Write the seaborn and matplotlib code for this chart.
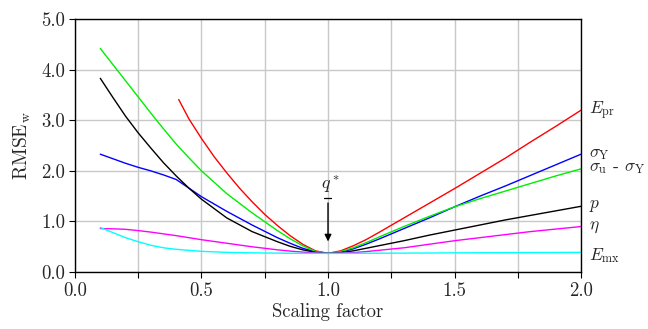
import numpy as np
import pandas as pd
import matplotlib
matplotlib.use("Agg")
import matplotlib.pyplot as plt
import seaborn as sns

x_main = [0.1, 0.15, 0.2, 0.25, 0.3, 0.35, 0.4, 0.45, 0.5, 0.6, 0.7, 0.8, 0.85, 0.9, 0.95, 1.0,
          1.05, 1.1, 1.15, 1.2, 1.3, 1.4, 1.5, 1.6, 1.7, 1.8, 1.9, 2.0]
x_red = [0.41, 0.45, 0.5, 0.55, 0.6, 0.65, 0.7, 0.75, 0.8, 0.85, 0.9, 0.95, 1.0,
         1.05, 1.1, 1.15, 1.2, 1.3, 1.4, 1.5, 1.6, 1.7, 1.8, 1.9, 2.0]

p_vals = [3.83, 3.45, 3.08, 2.75, 2.45, 2.16, 1.90, 1.66, 1.44, 1.07, 0.80, 0.60, 0.51, 0.44, 0.39, 0.37,
          0.385, 0.42, 0.47, 0.52, 0.62, 0.73, 0.83, 0.93, 1.03, 1.12, 1.21, 1.30]
sy_vals = [2.33, 2.24, 2.15, 2.07, 2.00, 1.92, 1.83, 1.66, 1.49, 1.20, 0.93, 0.68, 0.57, 0.47, 0.40, 0.37,
           0.395, 0.46, 0.55, 0.65, 0.86, 1.07, 1.29, 1.50, 1.70, 1.91, 2.12, 2.33]
su_vals = [4.42, 4.10, 3.78, 3.46, 3.14, 2.83, 2.53, 2.26, 2.00, 1.55, 1.17, 0.82, 0.66, 0.52, 0.41, 0.37,
           0.405, 0.48, 0.58, 0.69, 0.90, 1.10, 1.29, 1.45, 1.60, 1.75, 1.90, 2.04]
epr_vals = [3.41, 3.03, 2.64, 2.28, 1.96, 1.66, 1.39, 1.14, 0.92, 0.72, 0.55, 0.42, 0.37,
            0.42, 0.52, 0.64, 0.78, 1.07, 1.36, 1.65, 1.95, 2.25, 2.57, 2.88, 3.20]
eta_vals = [0.86, 0.855, 0.845, 0.82, 0.79, 0.755, 0.72, 0.68, 0.64, 0.57, 0.50, 0.44, 0.415, 0.395, 0.378, 0.37,
            0.375, 0.385, 0.405, 0.43, 0.48, 0.55, 0.62, 0.68, 0.74, 0.80, 0.85, 0.90]
emx_vals = [0.88, 0.78, 0.68, 0.60, 0.53, 0.48, 0.45, 0.43, 0.41, 0.39, 0.38, 0.375, 0.372, 0.37, 0.37, 0.37,
            0.37, 0.371, 0.372, 0.373, 0.375, 0.377, 0.38, 0.382, 0.384, 0.386, 0.388, 0.39]

names = ["Epr", "sY", "su", "p", "eta", "Emx"]
labels = [r"$E_\mathrm{pr}$", r"$\sigma_\mathrm{Y}$", r"$\sigma_\mathrm{u}$ - $\sigma_\mathrm{Y}$",
          r"$p$", r"$\eta$", r"$E_\mathrm{mx}$"]
label_y = [3.2, 2.33, 2.05, 1.3, 0.88, 0.32]
colors = ["#ff0000", "#0000ff", "#00ee00", "#000000", "#ff00ff", "#00ffff"]

sns.set_theme(style="whitegrid")
plt.rcParams["font.family"] = "serif"
plt.rcParams["font.serif"] = ["cmr10", "DejaVu Serif"]
plt.rcParams["mathtext.fontset"] = "cm"
plt.rcParams["axes.formatter.use_mathtext"] = True

rows = []
for name, xs, ys in [("Epr", x_red, epr_vals), ("sY", x_main, sy_vals), ("su", x_main, su_vals),
                     ("p", x_main, p_vals), ("eta", x_main, eta_vals), ("Emx", x_main, emx_vals)]:
    for a, b in zip(xs, ys):
        rows.append({"x": a, "y": b, "s": name})
df = pd.DataFrame(rows)

fig = plt.figure(figsize=(6.48, 3.29), dpi=100)
ax = fig.add_axes([0.1157, 0.173, 0.781, 0.769])
sns.lineplot(data=df, x="x", y="y", hue="s", hue_order=names,
             palette=dict(zip(names, colors)), ax=ax, legend=False, lw=1.0, sort=False)

ax.set_xlim(0, 2)
ax.set_ylim(0, 5)
ax.set_xticks([0, 0.5, 1.0, 1.5, 2.0])
ax.set_xticklabels(["0.0", "0.5", "1.0", "1.5", "2.0"])
ax.set_xticks([0.25, 0.75, 1.25, 1.75], minor=True)
ax.set_yticks([0, 1, 2, 3, 4, 5])
ax.set_yticklabels(["0.0", "1.0", "2.0", "3.0", "4.0", "5.0"])
ax.grid(True, which="both", color="#c8c8c8", lw=1.0)
ax.set_facecolor("white")
for sp in ax.spines.values():
    sp.set_color("black")
    sp.set_linewidth(1.0)
ax.tick_params(which="both", direction="out", length=4, color="black", width=0.8,
               bottom=True, left=True, labelsize=13.5, pad=3)
ax.set_xlabel("Scaling factor", fontsize=13.5, labelpad=2)
ax.set_ylabel(r"RMSE$_\mathrm{w}$", fontsize=14, labelpad=6)

for lab, yy in zip(labels, label_y):
    ax.text(2.03, yy, lab, fontsize=12.5, va="center", ha="left", clip_on=False)

ax.annotate("", xy=(1.0, 0.55), xytext=(1.0, 1.42),
            arrowprops=dict(arrowstyle="-|>", color="black", lw=1.0, mutation_scale=10))
ax.text(1.008, 1.72, r"$q^*$", fontsize=13, ha="center", va="center")
ax.plot([0.985, 1.012], [1.47, 1.47], color="black", lw=0.9)

fig.savefig("out.png", dpi=100)
